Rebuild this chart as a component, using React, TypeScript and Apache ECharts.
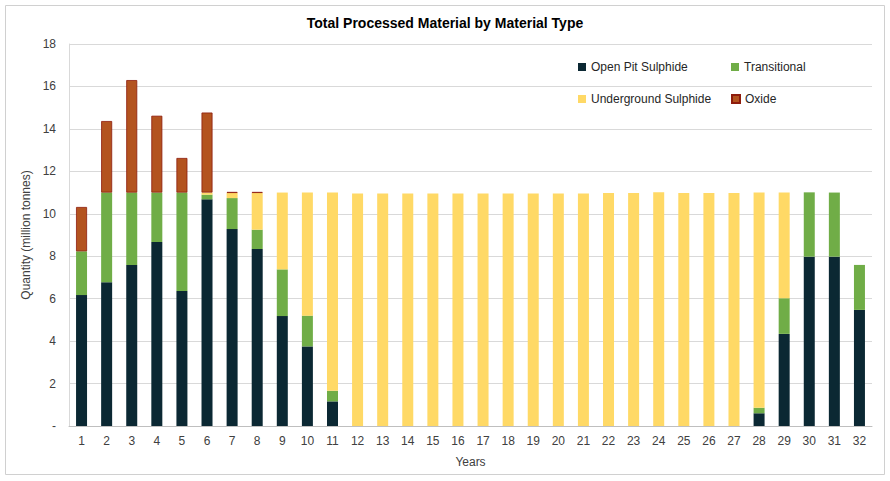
import React, { useEffect, useRef } from "react";
import * as echarts from "echarts";

const years = Array.from({ length: 32 }, (_, i) => String(i + 1));
const openPitSulphide = [6.17, 6.77, 7.59, 8.67, 6.36, 10.68, 9.28, 8.34, 5.18, 3.75, 1.16, 0, 0, 0, 0, 0, 0, 0, 0, 0, 0, 0, 0, 0, 0, 0, 0, 0.6, 4.34, 7.98, 7.98, 5.47];
const transitional = [2.06, 4.23, 3.41, 2.33, 4.64, 0.22, 1.46, 0.91, 2.2, 1.45, 0.5, 0, 0, 0, 0, 0, 0, 0, 0, 0, 0, 0, 0, 0, 0, 0, 0, 0.26, 1.68, 3.03, 3.02, 2.12];
const undergroundSulphide = [0, 0, 0, 0, 0, 0.1, 0.24, 1.73, 3.62, 5.8, 9.34, 10.95, 10.95, 10.95, 10.95, 10.95, 10.95, 10.95, 10.95, 10.95, 10.95, 10.98, 10.98, 11.01, 10.98, 10.98, 10.98, 10.14, 4.98, 0, 0, 0];
const oxide = [2.09, 3.37, 5.3, 3.62, 1.63, 3.77, 0.05, 0.05, 0, 0, 0, 0, 0, 0, 0, 0, 0, 0, 0, 0, 0, 0, 0, 0, 0, 0, 0, 0, 0, 0, 0, 0];
const yTicks = { min: 0, max: 18, interval: 2 };

const FONT = "'Liberation Sans', Arial, sans-serif";

export default function App() {
  const ref = useRef<HTMLDivElement>(null);
  useEffect(() => {
    document.body.style.margin = "0";
    const chart = echarts.init(ref.current!, null, { renderer: "svg" });
    const legendText = { fontFamily: FONT, fontSize: 12, color: "#262626" };
    const mkLegend = (name: string, left: number, top: number) => ({
      data: [name],
      left,
      top,
      itemWidth: 8,
      itemHeight: 8,
      itemGap: 0,
      icon: "rect",
      textStyle: legendText,
      selectedMode: false,
      padding: 0,
    });
    const bar = (name: string, data: number[], color: string, border?: string) => ({
      name,
      type: "bar",
      stack: "total",
      data: data.map((v) => (v === 0 ? "-" : v)),
      barWidth: 11,
      itemStyle: border
        ? { color, borderColor: border, borderWidth: 0.8 }
        : { color },
    });
    chart.setOption({
      animation: false,
      backgroundColor: "#ffffff",
      textStyle: { fontFamily: FONT },
      title: {
        text: "Total Processed Material by Material Type",
        left: "center",
        top: 11,
        textStyle: { fontFamily: FONT, fontSize: 14, fontWeight: "bold", color: "#000000" },
      },
      graphic: [
        {
          type: "rect",
          shape: { x: 5.5, y: 5.5, width: 879, height: 469 },
          style: { fill: "none", stroke: "#d0d0d0", lineWidth: 1 },
          silent: true,
        },
      ],
      legend: [
        mkLegend("Open Pit Sulphide", 578, 61),
        mkLegend("Transitional", 731, 61),
        mkLegend("Underground Sulphide", 578, 93),
        mkLegend("Oxide", 731, 93),
      ],
      grid: { left: 69, right: 18, top: 44, bottom: 55 },
      xAxis: {
        type: "category",
        data: years,
        name: "Years",
        nameLocation: "middle",
        nameGap: 30,
        nameTextStyle: { fontFamily: FONT, fontSize: 12, color: "#404040" },
        axisLine: { lineStyle: { color: "#bfbfbf" } },
        axisTick: { show: false },
        axisLabel: { fontFamily: FONT, fontSize: 12, color: "#404040", margin: 9, interval: 0 },
      },
      yAxis: {
        type: "value",
        min: yTicks.min,
        max: yTicks.max,
        interval: yTicks.interval,
        name: "Quantity (million tonnes)",
        nameLocation: "middle",
        nameGap: 36,
        nameTextStyle: { fontFamily: FONT, fontSize: 12, color: "#404040" },
        axisLine: { show: true, lineStyle: { color: "#d9d9d9" } },
        axisTick: { show: false },
        splitLine: { lineStyle: { color: "#d9d9d9" } },
        axisLabel: {
          fontFamily: FONT,
          fontSize: 12,
          color: "#404040",
          margin: 13,
          formatter: (v: number) => (v === 0 ? "-" : String(v)),
        },
      },
      series: [
        bar("Open Pit Sulphide", openPitSulphide, "#0b2833"),
        bar("Transitional", transitional, "#70ad47"),
        bar("Underground Sulphide", undergroundSulphide, "#ffd966"),
        bar("Oxide", oxide, "#b3531f", "#8e1c0c"),
      ],
    });
    return () => chart.dispose();
  }, []);
  return <div ref={ref} style={{ width: 890, height: 481 }} />;
}
